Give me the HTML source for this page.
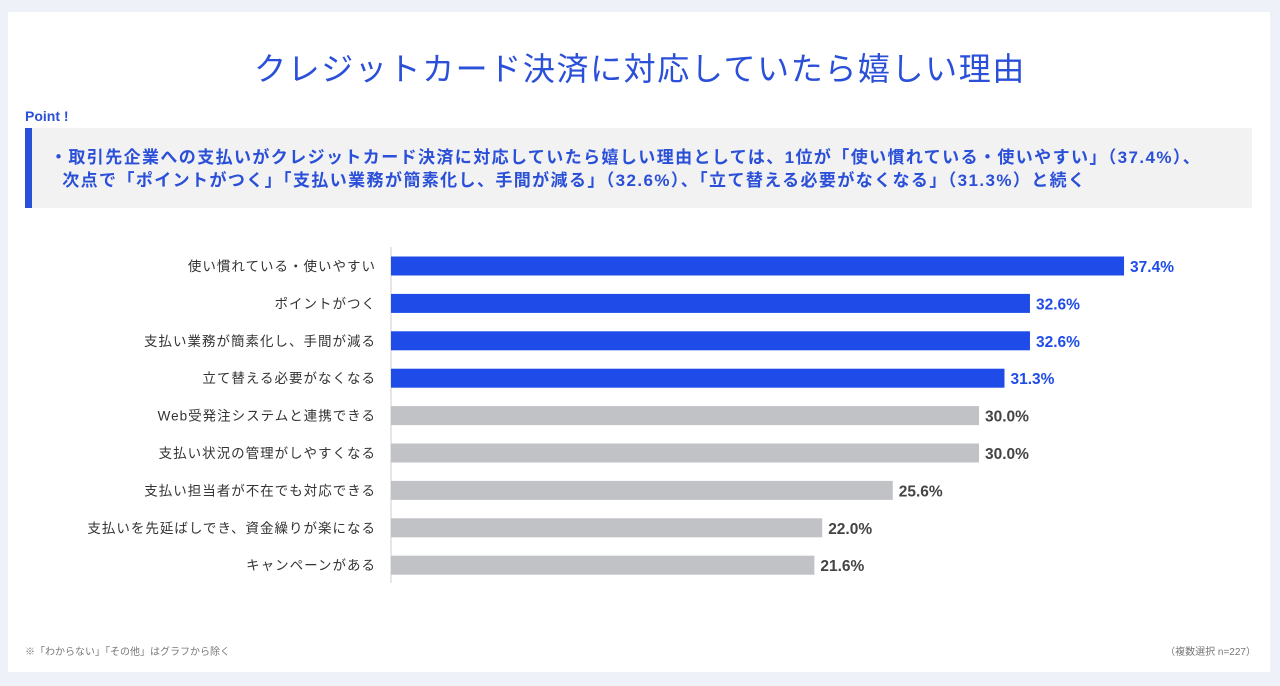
<!DOCTYPE html>
<html><head><meta charset="utf-8"><style>
body{margin:0;width:1280px;height:686px;background:#eef2f8;font-family:"Liberation Sans","Noto Sans CJK JP",sans-serif;overflow:hidden;position:relative}
.card{position:absolute;left:8px;top:12px;width:1262px;height:660px;background:#fff}
.title{position:absolute;left:0;width:1280px;top:44px;text-align:center;font-size:32px;color:#2a4fd8;letter-spacing:1.6px}
.point{position:absolute;left:25px;top:108px;font-size:14px;font-weight:bold;color:#2a4fd8}
.box{position:absolute;left:25px;top:128px;width:1227px;height:80px;background:#f2f2f2;border-left:7px solid #2a4fd8;box-sizing:border-box;padding:18px 0 0 18px;font-size:17px;font-weight:bold;color:#2a4fd8;line-height:23px;letter-spacing:1.4px;white-space:nowrap}
.note{position:absolute;font-size:10px;color:#777;top:643px}
</style></head><body>
<div class="card"></div>
<div class="title">クレジットカード決済に対応していたら嬉しい理由</div>
<div class="point">Point !</div>
<div class="box">・取引先企業への支払いがクレジットカード決済に対応していたら嬉しい理由としては、1位が「使い慣れている・使いやすい」（37.4%）、<br>&nbsp;&nbsp;次点で「ポイントがつく」「支払い業務が簡素化し、手間が減る」（32.6%）、「立て替える必要がなくなる」（31.3%）と続く</div>
<svg id="chart" width="1280" height="686" style="position:absolute;left:0;top:0"></svg>
<div class="note" style="left:25px">※「わからない」「その他」はグラフから除く</div>
<div class="note" style="right:24px">（複数選択 n=227）</div>
<script>
const categories=["使い慣れている・使いやすい","ポイントがつく","支払い業務が簡素化し、手間が減る","立て替える必要がなくなる","Web受発注システムと連携できる","支払い状況の管理がしやすくなる","支払い担当者が不在でも対応できる","支払いを先延ばしでき、資金繰りが楽になる","キャンペーンがある"];
const values=[37.4,32.6,32.6,31.3,30.0,30.0,25.6,22.0,21.6];
const highlighted=[true,true,true,true,false,false,false,false,false];
const svg=document.getElementById('chart');const NS='http://www.w3.org/2000/svg';
const x0=391,pxPer=19.6,y0=266,step=37.4,bh=19;
const xs=v=>x0+v*pxPer, ys=i=>y0+i*step;
const ax=document.createElementNS(NS,'line');


ax.setAttribute('x1',x0);ax.setAttribute('x2',x0);ax.setAttribute('y1',247);ax.setAttribute('y2',583);ax.setAttribute('stroke','#ccc');svg.appendChild(ax);
categories.forEach((c,i)=>{
 const y=ys(i);
 const r=document.createElementNS(NS,'rect');
 
 
 r.setAttribute('x',x0);r.setAttribute('y',y-bh/2);r.setAttribute('width',xs(values[i])-x0);r.setAttribute('height',bh);
 r.setAttribute('fill',highlighted[i]?'#1f4ce8':'#c0c2c6');svg.appendChild(r);
 const t=document.createElementNS(NS,'text');
 
 
 t.setAttribute('x',376);t.setAttribute('y',y+5);t.setAttribute('text-anchor','end');t.setAttribute('font-size','13.5');t.setAttribute('letter-spacing','1');t.setAttribute('fill','#333');
 t.textContent=c;svg.appendChild(t);
 const v=document.createElementNS(NS,'text');
 
 
 v.setAttribute('x',xs(values[i])+6);v.setAttribute('y',y+6);v.setAttribute('font-size','15.5');v.setAttribute('font-weight','bold');v.setAttribute('fill',highlighted[i]?'#1f4ce8':'#444');
 v.textContent=values[i].toFixed(1)+'%';svg.appendChild(v);
});
</script>
</body></html>
